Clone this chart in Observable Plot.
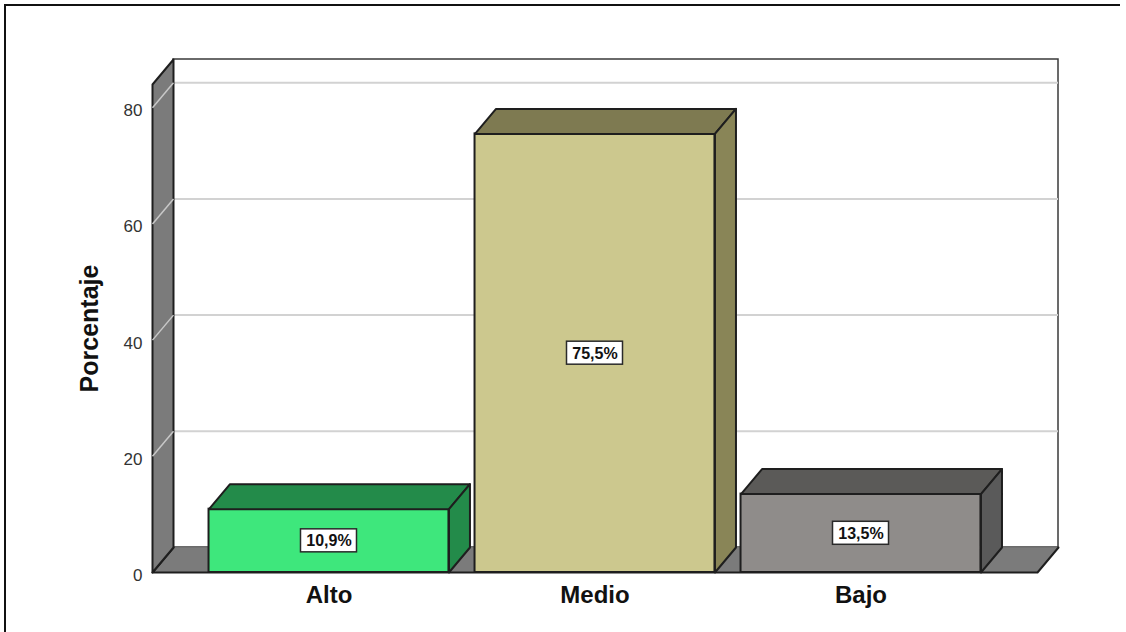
<!DOCTYPE html>
<html>
<head>
<meta charset="utf-8">
<script src="https://cdn.jsdelivr.net/npm/d3@7"></script>
<script src="https://cdn.jsdelivr.net/npm/@observablehq/plot@0.6"></script>
<style>
  html, body { margin: 0; padding: 0; background: #fff; }
  #wrap { position: relative; width: 1126px; height: 632px; overflow: hidden; }
  #frame { position: absolute; left: 4px; top: 4px; width: 1114px; height: 700px;
           border-left: 2px solid #111; border-top: 2px solid #111; pointer-events: none; }
  #chart { position: absolute; left: 0; top: 0; }
</style>
</head>
<body>
<div id="wrap"><div id="chart"></div><div id="frame"></div></div>
<script>
// ---- data ----
const categories = ["Alto", "Medio", "Bajo"];
const values = [10.9, 75.5, 13.5];
const valueLabels = ["10,9%", "75,5%", "13,5%"];
const yTicks = [0, 20, 40, 60, 80];
const yTitle = "Porcentaje";

// ---- styles ----
const frontColors = ["#3ee77c", "#ccc88e", "#8f8c8a"];
const topColors   = ["#238b4a", "#7e7a51", "#5b5a58"];
const sideColors  = ["#238b4a", "#898557", "#5a5a5a"];
const wallColor = "#7b7b7b";
const edge = "#1e1e1e";
const font = "'Liberation Sans', Arial, sans-serif";

// ---- layout ----
const W = 1126, H = 632;
const mL = 152, mR = 89, mT = 84, mB = 60;
const xMin = -0.6635, xMax = 2.6635;   // category index domain
const yMax = 84;                        // wall height in value units
const DX = 21, DY = -25;                // depth offset in pixels
const halfBar = 0.451;                  // half bar width in index units
const boxW = 28, boxH = 11.5;           // label box half-size in pixels

const pxX = (W - mL - mR) / (xMax - xMin);
const pxY = (H - mT - mB) / yMax;
const ddx = DX / pxX, ddy = -DY / pxY;
const bwx = boxW / pxX, bhy = boxH / pxY;

const marks = [];
const poly = (pts, o) => Plot.line(pts, {x: d => d[0], y: d => d[1], ...o});

// back wall
marks.push(Plot.rect([0], {x1: xMin, x2: xMax, y1: 0, y2: yMax, dx: DX, dy: DY,
  fill: "#fff", stroke: "#3a3a3a", strokeWidth: 1.5}));
// back gridlines
marks.push(Plot.ruleY(yTicks.filter(t => t > 0), {x1: xMin, x2: xMax, dx: DX, dy: DY,
  stroke: "#d2d2d2", strokeWidth: 2}));
// floor
marks.push(poly([[xMin, 0], [xMax, 0], [xMax + ddx, ddy], [xMin + ddx, ddy], [xMin, 0]],
  {fill: wallColor, stroke: "none"}));
marks.push(poly([[xMin + ddx, ddy], [xMin, 0], [xMax, 0], [xMax + ddx, ddy], [xMax + ddx, ddy + 0.0001]],
  {stroke: edge, strokeWidth: 2}));
// left wall
marks.push(poly([[xMin, 0], [xMin, yMax], [xMin + ddx, yMax + ddy], [xMin + ddx, ddy], [xMin, 0]],
  {fill: wallColor, stroke: edge, strokeWidth: 2}));
// left wall gridline diagonals
marks.push(Plot.link(yTicks.filter(t => t > 0), {x1: xMin, y1: d => d, x2: xMin + ddx, y2: d => d + ddy,
  stroke: "#c8c8c8", strokeWidth: 1.5}));

// bars
values.forEach((v, i) => {
  const x1 = i - halfBar, x2 = i + halfBar;
  marks.push(Plot.rect([v], {x1, x2, y1: 0, y2: d => d, fill: frontColors[i], stroke: edge, strokeWidth: 2}));
  marks.push(poly([[x1, v], [x2, v], [x2 + ddx, v + ddy], [x1 + ddx, v + ddy], [x1, v]],
    {fill: topColors[i], stroke: edge, strokeWidth: 2}));
  marks.push(poly([[x2, 0], [x2, v], [x2 + ddx, v + ddy], [x2 + ddx, ddy], [x2, 0]],
    {fill: sideColors[i], stroke: edge, strokeWidth: 2}));
});

// value labels
const lab = values.map((v, i) => ({i, v, t: valueLabels[i]}));
marks.push(Plot.rect(lab, {x1: d => d.i - bwx, x2: d => d.i + bwx, y1: d => d.v / 2 - bhy, y2: d => d.v / 2 + bhy,
  fill: "#fff", stroke: "#2a2a2a", strokeWidth: 1.5}));
marks.push(Plot.text(lab, {x: "i", y: d => d.v / 2, text: "t", fontSize: 16, fontWeight: "bold", fill: "#111", dy: 0.5}));

// axes
marks.push(Plot.axisY({ticks: yTicks, tickSize: 0, tickPadding: 10, fontSize: 17, fill: "#333", label: null, dy: 3}));
marks.push(Plot.axisX({ticks: [0, 1, 2], tickFormat: i => categories[i], tickSize: 0, tickPadding: 13,
  fontSize: 24, fontWeight: "bold", fill: "#111", label: null}));
marks.push(Plot.text([yTitle], {frameAnchor: "left", textAnchor: "middle", rotate: -90, dx: -63, fontSize: 25,
  fontWeight: "bold", fill: "#111"}));

const chart = Plot.plot({
  width: W, height: H,
  marginLeft: mL, marginRight: mR, marginTop: mT, marginBottom: mB,
  x: {type: "linear", domain: [xMin, xMax], axis: null},
  y: {type: "linear", domain: [0, yMax], axis: null},
  style: {fontFamily: font, background: "transparent", overflow: "visible"},
  marks
});
document.getElementById("chart").append(chart);
</script>
</body>
</html>
